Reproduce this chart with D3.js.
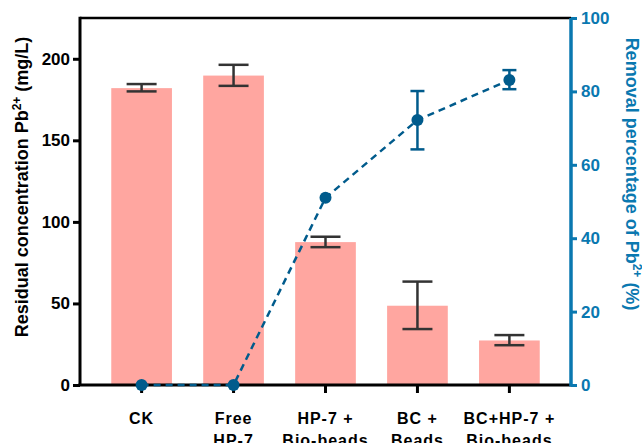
<!DOCTYPE html>
<html>
<head>
<meta charset="utf-8">
<script src="https://cdn.jsdelivr.net/npm/d3@7"></script>
<style>
  body { margin: 0; background: #fff; }
  text { font-family: "Liberation Sans", Arial, sans-serif; font-weight: bold; }
</style>
</head>
<body>
<svg id="chart"></svg>
<script>
var categories = [["CK"], ["Free", "HP-7"], ["HP-7 +", "Bio-beads"], ["BC +", "Beads"], ["BC+HP-7 +", "Bio-beads"]];
var residual = [182, 189.7, 87.6, 48.6, 27.3];
var residualLo = [180, 183.4, 84.5, 34.3, 24.4];
var residualHi = [184.5, 196.3, 90.9, 63.4, 30.6];
var removal = [0, 0, 51, 72.2, 83.1];
var removalLo = [null, null, null, 64.2, 80.6];
var removalHi = [null, null, null, 80.1, 85.8];
var leftTicks = [0, 50, 100, 150, 200];
var rightTicks = [0, 20, 40, 60, 80, 100];

var W = 642, H = 443;
var pL = 80, pR = 571, pT = 18, pB = 385;
var barColor = "#ffa6a0", errColor = "#333333";
var axisBlue = "#0a78b0", lineBlue = "#005b8c";

var svg = d3.select("#chart").attr("width", W).attr("height", H);

var x = d3.scaleBand()
	.domain(d3.range(categories.length))
	.range([pL, pR])
	.paddingInner(0.34)
	.paddingOuter(0.34);
var yL = d3.scaleLinear().domain([0, 225]).range([pB, pT]);
var yR = d3.scaleLinear().domain([0, 100]).range([pB, pT]);

// bars
svg.selectAll(".bar")
	.data(residual).enter().append("rect")
	.attr("class", "bar")
	.attr("x", function (d, i) { return x(i); })
	.attr("width", x.bandwidth())
	.attr("y", function (d) { return yL(d); })
	.attr("height", function (d) { return pB - yL(d); })
	.attr("fill", barColor);

// bar error bars
var cap = 15;
var eb = svg.append("g").attr("stroke", errColor).attr("stroke-width", 2.5);
residual.forEach(function (d, i) {
	var cx = x(i) + x.bandwidth() / 2;
	eb.append("line").attr("x1", cx).attr("x2", cx).attr("y1", yL(residualLo[i])).attr("y2", yL(residualHi[i]));
	eb.append("line").attr("x1", cx - cap).attr("x2", cx + cap).attr("y1", yL(residualLo[i])).attr("y2", yL(residualLo[i]));
	eb.append("line").attr("x1", cx - cap).attr("x2", cx + cap).attr("y1", yL(residualHi[i])).attr("y2", yL(residualHi[i]));
});

// box top
svg.append("line")
	.attr("x1", pL).attr("x2", pR)
	.attr("y1", pT).attr("y2", pT)
	.attr("stroke", "#000").attr("stroke-width", 2.5);

// left axis
var gL = svg.append("g")
	.attr("transform", "translate(" + pL + ",0)")
	.call(d3.axisLeft(yL).tickValues(leftTicks).tickSize(7).tickSizeOuter(0).tickPadding(3));
gL.select(".domain").attr("stroke", "#000").attr("stroke-width", 3).attr("d", "M0," + (pT - 1.25) + "V" + pB);
gL.selectAll(".tick line").attr("stroke", "#000").attr("stroke-width", 3);
gL.selectAll(".tick text").attr("fill", "#000").style("font-size", "17px").style("font-family", "Liberation Sans, Arial, sans-serif").style("font-weight", "bold");

// bottom axis
var gB = svg.append("g")
	.attr("transform", "translate(0," + pB + ")")
	.call(d3.axisBottom(x).tickSize(8).tickSizeOuter(0).tickFormat(""));
gB.select(".domain").attr("stroke", "#000").attr("stroke-width", 3).attr("d", "M" + (pL - 1.5) + ",0H" + pR);
gB.selectAll(".tick line").attr("stroke", "#000").attr("stroke-width", 3);
gB.selectAll(".tick").each(function (d) {
	var t = d3.select(this).append("text")
		.attr("text-anchor", "middle")
		.attr("fill", "#000")
		.style("font-size", "16px")
		.style("letter-spacing", "1px");
	categories[d].forEach(function (s, j) {
		t.append("tspan").attr("x", 0).attr("y", 39 + j * 22).text(s);
	});
});

// right axis
var gR = svg.append("g")
	.attr("transform", "translate(" + pR + ",0)")
	.call(d3.axisRight(yR).tickValues(rightTicks).tickSize(6).tickSizeOuter(0).tickPadding(4));
gR.select(".domain").attr("stroke", axisBlue).attr("stroke-width", 3.5).attr("d", "M0," + pT + "V" + (pB + 1.5));
gR.selectAll(".tick line").attr("stroke", axisBlue).attr("stroke-width", 3);
gR.selectAll(".tick text").attr("fill", axisBlue).style("font-size", "17px").style("font-family", "Liberation Sans, Arial, sans-serif").style("font-weight", "bold");

// removal line
var cxs = function (d, i) { return x(i) + x.bandwidth() / 2; };
svg.append("path")
	.datum(removal)
	.attr("fill", "none")
	.attr("stroke", lineBlue)
	.attr("stroke-width", 2.5)
	.attr("stroke-dasharray", "7,5")
	.attr("d", d3.line().x(cxs).y(function (d) { return yR(d); }));

var rb = svg.append("g").attr("stroke", lineBlue).attr("stroke-width", 2.5);
removal.forEach(function (d, i) {
	if (removalLo[i] == null) return;
	var cx = x(i) + x.bandwidth() / 2, c = 7;
	rb.append("line").attr("x1", cx).attr("x2", cx).attr("y1", yR(removalLo[i])).attr("y2", yR(removalHi[i]));
	rb.append("line").attr("x1", cx - c).attr("x2", cx + c).attr("y1", yR(removalLo[i])).attr("y2", yR(removalLo[i]));
	rb.append("line").attr("x1", cx - c).attr("x2", cx + c).attr("y1", yR(removalHi[i])).attr("y2", yR(removalHi[i]));
});

svg.selectAll(".dot")
	.data(removal).enter().append("circle")
	.attr("class", "dot")
	.attr("cx", cxs)
	.attr("cy", function (d) { return yR(d); })
	.attr("r", 6)
	.attr("fill", lineBlue);

// axis titles
var tL = svg.append("text")
	.attr("transform", "translate(28,187) rotate(-90)")
	.attr("text-anchor", "middle")
	.attr("fill", "#000")
	.style("font-size", "18px");
tL.append("tspan").text("Residual concentration Pb");
tL.append("tspan").attr("dy", -7).style("font-size", "12px").text("2+");
tL.append("tspan").attr("dy", 7).text(" (mg/L)");

var tR = svg.append("text")
	.attr("transform", "translate(626,174) rotate(90)")
	.attr("text-anchor", "middle")
	.attr("fill", axisBlue)
	.style("font-size", "18px");
tR.append("tspan").text("Removal percentage of Pb");
tR.append("tspan").attr("dy", -7).style("font-size", "12px").text("2+");
tR.append("tspan").attr("dy", 7).text(" (%)");
</script>
</body>
</html>
